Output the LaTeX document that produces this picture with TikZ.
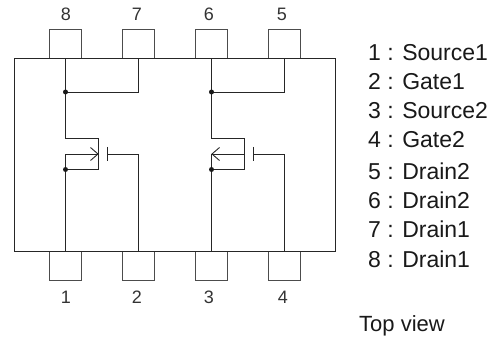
\documentclass[tikz,border=0pt]{standalone}
\usepackage{fontspec}
\setmainfont{Liberation Sans}
\tikzset{
  wire/.style={draw=black!85,line width=0.9pt},
  pinbox/.style={draw=black!70,line width=1.1pt},
  dotn/.style={circle,fill=black!90,inner sep=0pt,minimum size=5pt},
  pinnum/.style={font=\fontsize{18}{18}\selectfont,text=black!80,inner sep=0pt,anchor=base},
  legend/.style={font=\fontsize{23}{23}\selectfont,text=black!90,inner sep=0pt,anchor=base west},
  viewnote/.style={font=\fontsize{22}{22}\selectfont,text=black!90,inner sep=0pt,anchor=base west}
}
\begin{document}
\begin{tikzpicture}[x=1pt,y=-1pt]
\useasboundingbox (0,0) rectangle (499,337);
\fill[white] (0,0) rectangle (499,337);
\foreach \c in {65.5,138.5,211.5,284.5}{
  \draw[pinbox] (\c-16,58.5) -- (\c-16,29.5) -- (\c+16,29.5) -- (\c+16,58.5);
  \draw[pinbox] (\c-16,251.5) -- (\c-16,280.5) -- (\c+16,280.5) -- (\c+16,251.5);
}
\draw[wire] (14.5,58.5) rectangle (335.5,251.5);
\node[pinnum] (n8) at (66,21) {8};
\node[pinnum] (n7) at (137,21) {7};
\node[pinnum] (n6) at (209,21) {6};
\node[pinnum] (n5) at (282,21) {5};
\node[pinnum] (n1) at (66,303) {1};
\node[pinnum] (n2) at (137,303) {2};
\node[pinnum] (n3) at (209,303) {3};
\node[pinnum] (n4) at (283,303) {4};
\foreach \d/\x in {0/a,146/b}{
  \coordinate (top\x) at (65.5+\d,58.5);
  \coordinate (tap\x) at (65.5+\d,92);
  \coordinate (topr\x) at (138.5+\d,58.5);
  \coordinate (bot\x) at (65.5+\d,251.5);
  \coordinate (botr\x) at (138.5+\d,251.5);
  \coordinate (dr\x) at (65.5+\d,138.5);
  \coordinate (so\x) at (65.5+\d,169.5);
  \coordinate (mid\x) at (65.5+\d,154);
  \coordinate (chd\x) at (98.5+\d,138.5);
  \coordinate (chs\x) at (98.5+\d,169.5);
  \coordinate (chm\x) at (98.5+\d,154);
  \coordinate (gt\x) at (107.5+\d,147);
  \coordinate (gb\x) at (107.5+\d,161);
  \coordinate (gm\x) at (107.5+\d,154);
  \coordinate (gr\x) at (138.5+\d,154);
  \coordinate (jn\x) at (138.5+\d,92);
  \draw[wire] (top\x) -- (dr\x) -- (chd\x) -- (chs\x) -- (so\x);
  \draw[wire] (topr\x) -- (jn\x) -- (tap\x);
  \draw[wire] (bot\x) -- (mid\x) -- (chm\x);
  \draw[wire] (gt\x) -- (gb\x);
  \draw[wire] (gm\x) -- (gr\x) -- (botr\x);
  \node[dotn] (d1\x) at (tap\x) {};
  \node[dotn] (d2\x) at (so\x) {};
}
\draw[wire] (90.5,147.5) -- (98,154) -- (90.5,160.5);
\draw[wire] (219.5,147.5) -- (212,154) -- (219.5,160.5);
\foreach \i/\s/\y in {1/1 : Source1/60.5,2/2 : Gate1/90,3/3 : Source2/119,4/4 : Gate2/148,5/5 : Drain2/179,6/6 : Drain2/208,7/7 : Drain1/237.5,8/8 : Drain1/267}{
  \node[legend] (l\i) at (368,\y) {\s};
}
\node[viewnote] (tv) at (359,331) {Top view};
\end{tikzpicture}
\end{document}
